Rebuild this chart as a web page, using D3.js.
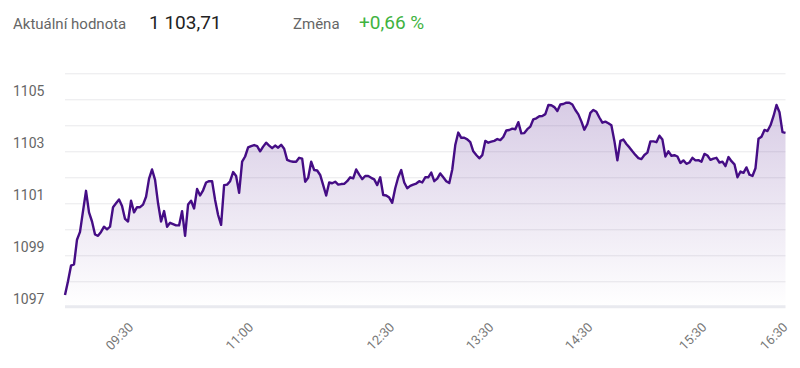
<!DOCTYPE html>
<html>
<head>
<meta charset="utf-8">
<script src="https://cdn.jsdelivr.net/npm/d3@7"></script>
<style>
  body { margin: 0; background: #fff; }
  text { font-family: Roboto, "Noto Sans", sans-serif; }
</style>
</head>
<body>
<div id="container"></div>
<script>
/* CONSTANTS AND GLOBALS */
const width = 800;
const height = 368;
const margin = {top: 73.3, bottom: 60.7, left: 65, right: 14.5};

/* DATA */
const headerLabel = "Aktuální hodnota";
const headerValue = "1 103,71";
const changeLabel = "Změna";
const changeValue = "+0,66 %";

// intraday values, one per sample
const prices = [
  1097.47, 1098.0, 1098.6, 1098.65, 1099.6, 1099.9, 1100.7, 1101.48, 1100.65, 1100.3,
  1099.8, 1099.75, 1099.9, 1100.1, 1100.0, 1100.1, 1100.85, 1101.0, 1101.15, 1100.9,
  1100.4, 1100.3, 1101.1, 1100.65, 1100.85, 1100.85, 1100.95, 1101.25, 1101.95, 1102.3,
  1101.9, 1101.0, 1100.3, 1100.7, 1100.1, 1100.25, 1100.2, 1100.15, 1100.15, 1100.7,
  1099.75, 1100.95, 1101.1, 1100.8, 1101.55, 1101.3, 1101.5, 1101.8, 1101.85, 1101.85,
  1101.13, 1100.55, 1100.17, 1101.7, 1101.72, 1101.85, 1102.2, 1102.05, 1101.4, 1102.6,
  1102.8, 1103.15, 1103.2, 1103.24, 1103.2, 1103.0, 1103.18, 1103.33, 1103.22, 1103.12,
  1103.22, 1103.14, 1103.25, 1103.1, 1102.67, 1102.62, 1102.6, 1102.6, 1102.75, 1102.72,
  1101.83, 1101.98, 1102.6, 1102.28, 1102.26, 1102.09, 1101.7, 1101.3, 1101.8, 1101.77,
  1101.83, 1101.72, 1101.74, 1101.75, 1101.85, 1102.0, 1101.96, 1102.3, 1102.1, 1101.93,
  1102.05, 1102.05, 1101.98, 1101.92, 1101.7, 1102.0, 1101.32, 1101.3, 1101.22, 1101.02,
  1101.58, 1102.0, 1102.28, 1101.8, 1101.58, 1101.67, 1101.72, 1101.76, 1101.85, 1101.8,
  1102.0, 1102.0, 1102.18, 1101.85, 1101.95, 1102.15, 1102.0, 1101.85, 1101.78, 1102.3,
  1103.24, 1103.72, 1103.52, 1103.52, 1103.46, 1103.35, 1103.0, 1102.86, 1102.73, 1102.85,
  1103.4, 1103.33, 1103.37, 1103.4, 1103.47, 1103.43, 1103.55, 1103.8, 1103.82, 1103.87,
  1103.85, 1104.12, 1103.69, 1103.7, 1103.85, 1103.95, 1104.23, 1104.27, 1104.35, 1104.36,
  1104.43, 1104.78, 1104.77, 1104.7, 1104.55, 1104.8, 1104.82, 1104.87, 1104.87, 1104.8,
  1104.59, 1104.42, 1104.15, 1103.83, 1104.05, 1104.48, 1104.59, 1104.52, 1104.3, 1104.1,
  1104.14, 1104.08, 1104.0, 1103.4, 1102.65, 1103.4, 1103.45, 1103.28, 1103.15, 1103.0,
  1102.86, 1102.74, 1102.7, 1102.86, 1102.95, 1103.38, 1103.38, 1103.35, 1103.6, 1103.45,
  1102.8, 1103.0, 1102.83, 1102.85, 1102.8, 1102.55, 1102.65, 1102.52, 1102.57, 1102.75,
  1102.65, 1102.66, 1102.6, 1102.9, 1102.84, 1102.67, 1102.72, 1102.75, 1102.57, 1102.6,
  1102.43, 1102.78, 1102.62, 1102.5, 1102.0, 1102.22, 1102.17, 1102.38, 1102.1, 1102.05,
  1102.35, 1103.48, 1103.56, 1103.82, 1103.78, 1104.0, 1104.35, 1104.78, 1104.5, 1103.74,
  1103.71
];

// x axis labels and the sample they sit on
const timeLabels = ["09:30", "11:00", "12:30", "13:30", "14:30", "15:30", "16:30"];
const timeIndex = [22, 62, 109, 142, 175, 213, 240];

// y axis
const yMin = 1097;
const yMax = 1106;
const yLabelTicks = [1097, 1099, 1101, 1103, 1105];
const yGridTicks = [1098, 1099, 1100, 1101, 1102, 1103, 1104, 1105, 1106];

/* SCALES */
const xScale = d3.scaleLinear()
  .domain([0, prices.length - 1])
  .range([margin.left, width - margin.right]);

const yScale = d3.scaleLinear()
  .domain([yMin, yMax])
  .range([height - margin.bottom, margin.top]);

/* HTML ELEMENTS */
const svg = d3.select("#container")
  .append("svg")
  .attr("width", width)
  .attr("height", height);

// header
const header = svg.append("g");
header.append("text")
  .attr("x", 13).attr("y", 29)
  .attr("font-size", 15)
  .attr("fill", "#666")
  .text(headerLabel);
header.append("text")
  .attr("x", 149).attr("y", 29)
  .attr("font-size", 19)
  .attr("fill", "#222")
  .text(headerValue);
header.append("text")
  .attr("x", 293).attr("y", 29)
  .attr("font-size", 15)
  .attr("fill", "#666")
  .text(changeLabel);
header.append("text")
  .attr("x", 359).attr("y", 29)
  .attr("font-size", 19)
  .attr("fill", "#3fb33f")
  .text(changeValue);

// gridlines
svg.append("g")
  .selectAll("line")
  .data(yGridTicks)
  .join("line")
  .attr("x1", margin.left)
  .attr("x2", width - margin.right)
  .attr("y1", d => yScale(d) + 0.5)
  .attr("y2", d => yScale(d) + 0.5)
  .attr("stroke", "#e9e9ec")
  .attr("stroke-width", 1);

// bottom axis line
svg.append("line")
  .attr("x1", margin.left)
  .attr("x2", width - margin.right)
  .attr("y1", yScale(yMin) - 0.5)
  .attr("y2", yScale(yMin) - 0.5)
  .attr("stroke", "#e9eaef")
  .attr("stroke-width", 3);

// y labels
svg.append("g")
  .selectAll("text")
  .data(yLabelTicks)
  .join("text")
  .attr("x", 13)
  .attr("y", d => yScale(d) - 3)
  .attr("font-size", 14)
  .attr("fill", "#666")
  .text(d => d);

// area gradient
const grad = svg.append("defs")
  .append("linearGradient")
  .attr("id", "areaFill")
  .attr("x1", 0).attr("x2", 0)
  .attr("y1", 0).attr("y2", 1);
grad.append("stop").attr("offset", "0%").attr("stop-color", "#5b2a93").attr("stop-opacity", 0.24);
grad.append("stop").attr("offset", "100%").attr("stop-color", "#5b2a93").attr("stop-opacity", 0.0);

const area = d3.area()
  .x((d, i) => xScale(i))
  .y0(yScale(yMin))
  .y1(d => yScale(d));

svg.append("path")
  .datum(prices)
  .attr("d", area)
  .attr("fill", "url(#areaFill)");

const line = d3.line()
  .x((d, i) => xScale(i))
  .y(d => yScale(d));

svg.append("path")
  .datum(prices)
  .attr("d", line)
  .attr("fill", "none")
  .attr("stroke", "#450d85")
  .attr("stroke-width", 2.4)
  .attr("stroke-linejoin", "round");

// x labels
svg.append("g")
  .selectAll("text")
  .data(timeLabels)
  .join("text")
  .attr("transform", (d, i) => `translate(${xScale(timeIndex[i]) + 3},328) rotate(-45)`)
  .attr("text-anchor", "end")
  .attr("font-size", 13)
  .attr("fill", "#777")
  .text(d => d);
</script>
</body>
</html>
